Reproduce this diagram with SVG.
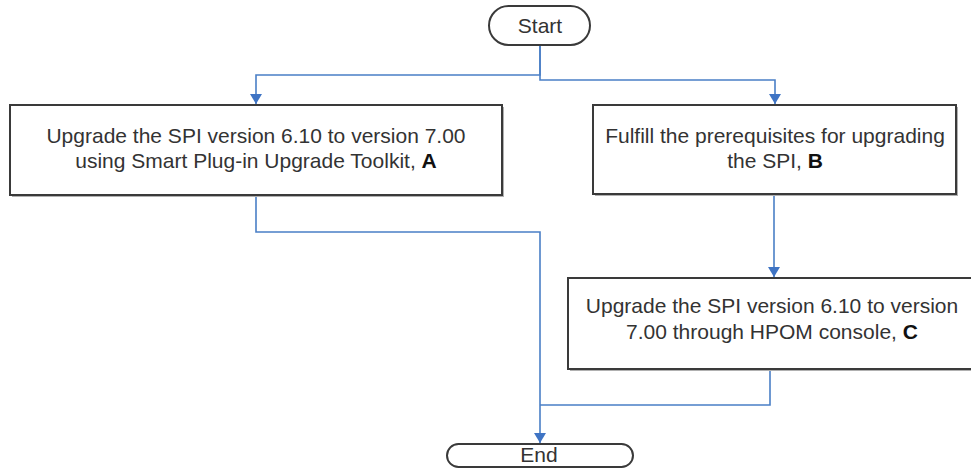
<svg xmlns="http://www.w3.org/2000/svg" width="971" height="468" viewBox="0 0 971 468">
<defs>
<style>
.box{fill:#fff;stroke:#3a3a3a;stroke-width:2}
.sh{fill:none;stroke:#b0b0b0;stroke-width:2}
.t{font-family:"Liberation Sans",Arial,sans-serif;font-size:21px;fill:#333;text-anchor:middle}
.t tspan.b{font-weight:bold;fill:#111}
.c{fill:none;stroke:#4a7fc6;stroke-width:1.6}
</style>
<marker id="ah" markerWidth="10" markerHeight="12" refX="10" refY="6" orient="auto" markerUnits="userSpaceOnUse" viewBox="0 0 10 12">
<path d="M0,0 L10,6 L0,12 Z" fill="#3f74c4" transform="translate(0,0)"/>
</marker>
</defs>
<rect width="971" height="468" fill="#fff"/>
<g id="connectors">
<path class="c" d="M540 45 V75 H256 V104" marker-end="url(#ah)"/>
<path class="c" d="M540 45 V80 H775 V104" marker-end="url(#ah)"/>
<path class="c" d="M774 195 V277" marker-end="url(#ah)"/>
<path class="c" d="M256 195 V232 H540 V443" marker-end="url(#ah)"/>
<path class="c" d="M770 369 V405 H540"/>
</g>
<g id="start">
<rect x="489" y="6" width="101" height="39" rx="19.5" ry="19.5" class="box"/>
<text class="t" x="540" y="33">Start</text>
</g>
<g id="nodeA">
<path class="sh" d="M12 196 H503 V107"/>
<rect x="10" y="105" width="492" height="90" class="box"/>
<text class="t" x="256" y="143">Upgrade the SPI version 6.10 to version 7.00</text>
<text class="t" x="256" y="168">using Smart Plug-in Upgrade Toolkit, <tspan class="b">A</tspan></text>
</g>
<g id="nodeB">
<path class="sh" d="M595 195 H957 V107"/>
<rect x="593" y="105" width="363" height="89" class="box"/>
<text class="t" x="775" y="143">Fulfill the prerequisites for upgrading</text>
<text class="t" x="775" y="168">the SPI, <tspan class="b">B</tspan></text>
</g>
<g id="nodeC">
<path class="sh" d="M570 370 H980"/>
<rect x="568" y="278" width="410" height="91" class="box"/>
<text class="t" x="772" y="313">Upgrade the SPI version 6.10 to version</text>
<text class="t" x="772" y="339">7.00 through HPOM console, <tspan class="b">C</tspan></text>
</g>
<g id="end">
<rect x="447" y="444" width="186" height="23" rx="11.5" ry="11.5" class="box"/>
<text class="t" x="539" y="462">End</text>
</g>
</svg>
